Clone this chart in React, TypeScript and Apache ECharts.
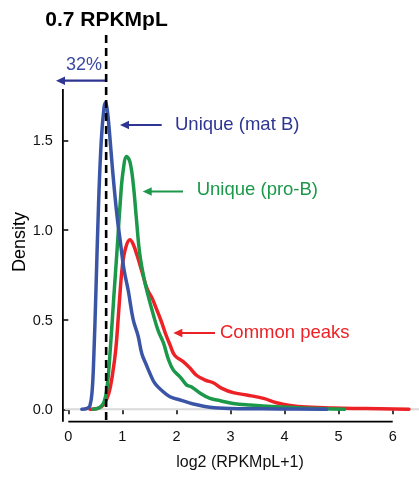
import React, { useEffect, useRef } from "react";
import * as echarts from "echarts";

// ---- data ----
const thresholdX = 0.7;
const xTicks = [0, 1, 2, 3, 4, 5, 6];
const yTicks = [0, 0.5, 1, 1.5];

const blueX = [0.25, 0.35, 0.4, 0.44, 0.47, 0.51, 0.56, 0.61, 0.66, 0.69, 0.72, 0.76, 0.82, 0.9, 0.96, 1.03, 1.11, 1.2, 1.29, 1.36, 1.44, 1.51, 1.6, 1.73, 1.88, 2.07, 2.31, 2.62, 3.0, 3.9, 4.78];
const blueY = [0, 0.005, 0.02, 0.1, 0.28, 0.65, 1.15, 1.5, 1.68, 1.71, 1.67, 1.55, 1.33, 1.08, 0.94, 0.78, 0.66, 0.5, 0.41, 0.31, 0.25, 0.2, 0.145, 0.105, 0.07, 0.052, 0.03, 0.012, 0.005, 0.002, 0];

const greenX = [0.46, 0.58, 0.66, 0.72, 0.78, 0.84, 0.9, 0.96, 1.01, 1.08, 1.14, 1.2, 1.26, 1.32, 1.4, 1.48, 1.57, 1.66, 1.76, 1.85, 1.94, 2.07, 2.19, 2.28, 2.44, 2.62, 2.81, 3.05, 3.36, 3.85, 4.4, 5.11];
const greenY = [0, 0.01, 0.04, 0.13, 0.35, 0.62, 0.88, 1.15, 1.32, 1.41, 1.38, 1.26, 1.06, 0.87, 0.73, 0.63, 0.53, 0.44, 0.37, 0.28, 0.22, 0.18, 0.135, 0.125, 0.09, 0.061, 0.048, 0.033, 0.024, 0.014, 0.006, 0];

const redX = [0.4, 0.55, 0.65, 0.75, 0.82, 0.88, 0.94, 1.0, 1.06, 1.14, 1.2, 1.27, 1.36, 1.46, 1.55, 1.63, 1.72, 1.8, 1.88, 1.97, 2.13, 2.25, 2.37, 2.53, 2.68, 2.84, 3.05, 3.3, 3.61, 3.85, 4.1, 4.4, 4.9, 5.5, 6.3];
const redY = [0, 0.005, 0.025, 0.09, 0.2, 0.34, 0.58, 0.8, 0.9, 0.945, 0.92, 0.86, 0.77, 0.67, 0.62, 0.56, 0.49, 0.42, 0.36, 0.3, 0.265, 0.23, 0.19, 0.163, 0.148, 0.117, 0.093, 0.08, 0.061, 0.037, 0.022, 0.013, 0.007, 0.004, 0];

// axis extents (data units)
const X_MIN = -0.1;
const X_MAX = 6.486;
const Y_MIN = -0.069;
const Y_MAX = 2.087;
const Y_AXIS_TOP = 1.786;
const DASH_BOTTOM = -0.06;

const FONT = '"Liberation Sans", Arial, Helvetica, sans-serif';
const BLUE = "#3A55A6";
const GREEN = "#1C984A";
const RED = "#EC2227";
const ABLUE = "#2E3592";

const zip = (xs: number[], ys: number[]) => xs.map((x, i) => [x, ys[i]]);

function arrow(tail: number, tip: number, y: number, color: string) {
  return {
    type: "group",
    children: [
      { type: "line", shape: { x1: tail, y1: y, x2: tip + 7, y2: y }, style: { stroke: color, lineWidth: 2.2 } },
      { type: "polygon", shape: { points: [[tip, y], [tip + 9, y - 4.3], [tip + 9, y + 4.3]] }, style: { fill: color } },
    ],
  };
}

function text(x: number, y: number, t: string, color: string, size: number, align = "left", weight = "normal") {
  return {
    type: "text",
    x,
    y,
    style: { text: t, fill: color, fontSize: size, fontFamily: FONT, align, verticalAlign: "middle", fontWeight: weight },
  };
}

export default function App() {
  const ref = useRef<HTMLDivElement>(null);
  useEffect(() => {
    if (!ref.current) return;
    const chart = echarts.init(ref.current, null, { renderer: "svg" });
    const curve = (data: number[][], color: string, z: number) => ({
      type: "line",
      data,
      showSymbol: false,
      symbol: "none",
      smooth: 0.4,
      z,
      lineStyle: { color, width: 3.5, join: "round", cap: "round" },
      silent: true,
    });
    const seg = (data: number[][], color: string, width: number, z: number, type: any = "solid") => ({
      type: "line",
      data,
      showSymbol: false,
      symbol: "none",
      clip: false,
      z,
      lineStyle: { color, width, type },
      silent: true,
    });
    chart.setOption({
      animation: false,
      grid: { left: 62.9, right: 0, top: 35, bottom: 57.3 },
      xAxis: {
        type: "value",
        min: X_MIN,
        max: X_MAX,
        axisLine: { show: false },
        splitLine: { show: false },
        axisTick: { show: true, customValues: xTicks, length: 5, lineStyle: { color: "#000", width: 1.5 } },
        axisLabel: { customValues: xTicks, margin: 7, fontSize: 14.5, color: "#111", fontFamily: FONT },
      },
      yAxis: {
        type: "value",
        min: Y_MIN,
        max: Y_MAX,
        axisLine: { show: false },
        splitLine: { show: false },
        axisTick: { show: true, customValues: yTicks, length: 5, lineStyle: { color: "#000", width: 1.5 } },
        axisLabel: {
          customValues: yTicks,
          margin: 10,
          fontSize: 14.5,
          color: "#111",
          fontFamily: FONT,
          formatter: (v: number) => v.toFixed(1),
        },
      },
      series: [
        seg([[X_MIN + 0.04, 0], [X_MAX, 0]], "#D9D9D9", 2, 1),
        seg([[xTicks[0], Y_MIN], [xTicks[xTicks.length - 1], Y_MIN]], "#000", 1.8, 3),
        seg([[X_MIN, Y_MIN], [X_MIN, Y_AXIS_TOP]], "#000", 1.8, 3),
        curve(zip(redX, redY), RED, 4),
        curve(zip(greenX, greenY), GREEN, 5),
        curve(zip(blueX, blueY), BLUE, 6),
        seg([[thresholdX, Y_MAX], [thresholdX, DASH_BOTTOM]], "#000", 2.6, 8, [8, 5]),
      ],
      graphic: [
        text(106.5, 18, "0.7 RPKMpL", "#000", 21, "center", "bold"),
        text(84, 63.5, "32%", "#3B4AA0", 18, "center"),
        arrow(105, 56, 80.7, ABLUE),
        arrow(161.7, 120, 125, ABLUE),
        text(175, 123, "Unique (mat B)", ABLUE, 18.5),
        arrow(183, 142.7, 191.5, GREEN),
        text(196.7, 188, "Unique (pro-B)", GREEN, 18.5),
        arrow(215, 173.3, 333, RED),
        text(220, 331.7, "Common peaks", RED, 18.5),
        {
          type: "text",
          x: 18.5,
          y: 242,
          rotation: Math.PI / 2,
          style: { text: "Density", fill: "#000", fontSize: 18, fontFamily: FONT, align: "center", verticalAlign: "middle" },
        },
        text(240, 461, "log2 (RPKMpL+1)", "#111", 16, "center"),
      ],
    });
    return () => chart.dispose();
  }, []);
  return <div ref={ref} style={{ position: "fixed", left: 0, top: 0, width: 419, height: 479 }} />;
}
